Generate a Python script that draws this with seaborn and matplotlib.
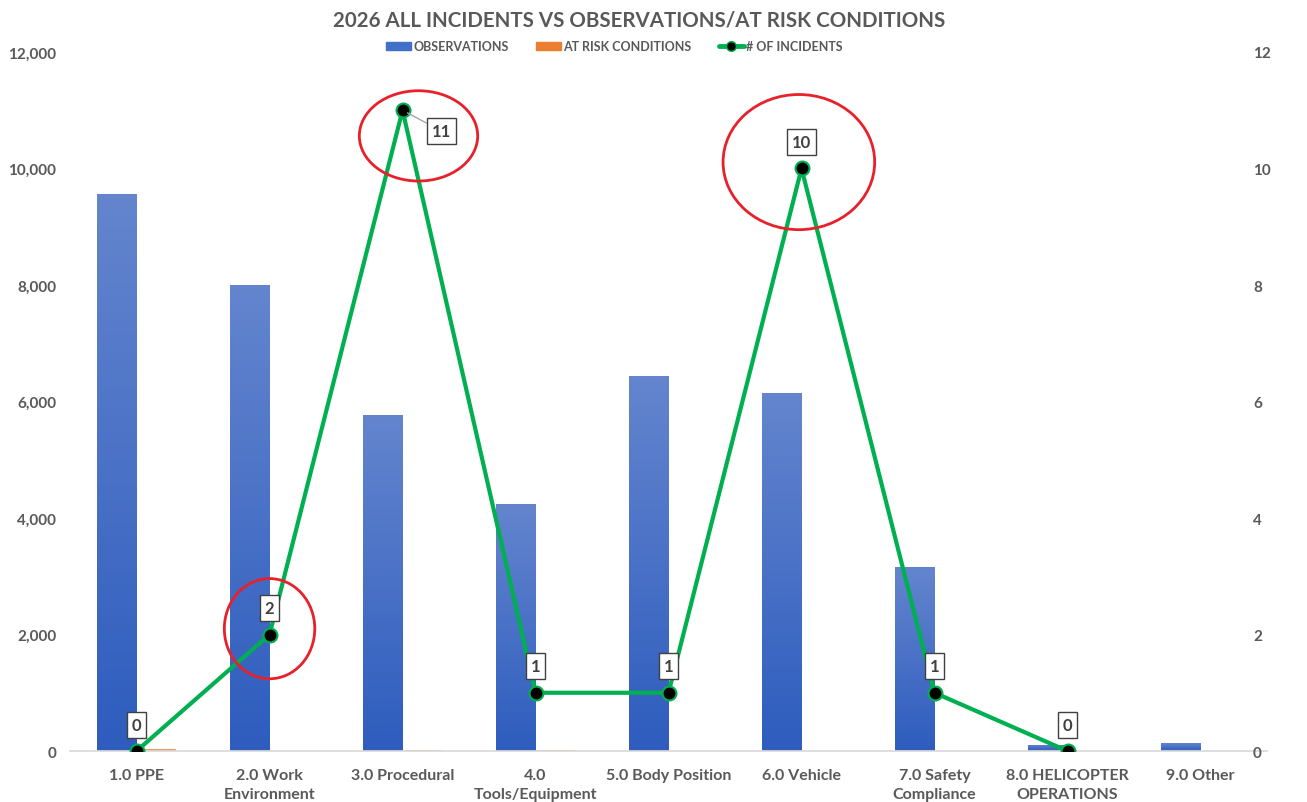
import numpy as np
import pandas as pd
import seaborn as sns
import matplotlib.pyplot as plt
from matplotlib.patches import Ellipse
from matplotlib.lines import Line2D
from matplotlib.ticker import FuncFormatter
from matplotlib.colors import LinearSegmentedColormap

categories = ["1.0 PPE", "2.0 Work\nEnvironment", "3.0 Procedural", "4.0\nTools/Equipment",
              "5.0 Body Position", "6.0 Vehicle", "7.0 Safety\nCompliance",
              "8.0 HELICOPTER\nOPERATIONS", "9.0 Other"]
observations = [9560, 8000, 5770, 4240, 6440, 6150, 3160, 110, 130]
at_risk = [45, 20, 30, 40, 8, 5, 15, 0, 0]
incidents = [0, 2, 11, 1, 1, 10, 1, 0, np.nan]

GRAY = "#595959"
BLUE = "#4070c8"
ORANGE = "#ED7D31"
GREEN = "#00B050"

sns.set_theme(style="white")
plt.rcParams['font.family'] = ['Lato', 'DejaVu Sans']

bars = pd.DataFrame({
    "cat": categories * 2,
    "value": observations + at_risk,
    "series": ["OBSERVATIONS"] * len(categories) + ["AT RISK CONDITIONS"] * len(categories),
})

fig = plt.figure(figsize=(13.07, 8.03), dpi=100)
ax = fig.add_axes([0.0536, 0.0635, 0.9158, 0.8705])
sns.barplot(data=bars, x="cat", y="value", hue="series", palette=[BLUE, ORANGE],
            width=0.6, ax=ax, legend=False, saturation=1)
ax.set_ylim(0, 12000)
ax.set_xlim(-0.5, len(categories) - 0.5)

# gradient fill for the observation bars (lighter at top like the original)
grad = LinearSegmentedColormap.from_list("g", ["#2E5DBE", "#6485CE"])
for p in ax.patches[:len(categories)]:
    x0, y0 = p.get_x(), p.get_y()
    w, h = p.get_width(), p.get_height()
    if h <= 0:
        continue
    im = ax.imshow(np.linspace(0, 1, 100).reshape(-1, 1), cmap=grad, origin="lower",
                   extent=[x0, x0 + w, y0, y0 + h], aspect="auto", zorder=p.get_zorder())
    im.set_clip_path(p)
ax.set_xlim(-0.5, len(categories) - 0.5)
ax.set_ylim(0, 12000)

ax.set_yticks(np.arange(0, 12001, 2000))
ax.yaxis.set_major_formatter(FuncFormatter(lambda v, p: f"{int(v):,}"))
ax.set_xlabel("")
ax.set_ylabel("")
for s in ["top", "right", "left"]:
    ax.spines[s].set_visible(False)
ax.spines["bottom"].set_color("#d9d9d9")
ax.tick_params(axis="y", length=0, pad=10, labelsize=11, labelcolor=GRAY)
ax.tick_params(axis="x", length=0, pad=12, labelsize=11.5, labelcolor=GRAY)
for t in ax.get_xticklabels():
    t.set_fontweight("bold")
    t.set_linespacing(1.45)
for t in ax.get_yticklabels():
    t.set_fontweight("bold")

ax2 = ax.twinx()
xpos = np.arange(len(categories))
sns.lineplot(x=xpos, y=incidents, ax=ax2, color=GREEN, linewidth=3, marker="o",
             markersize=10, markerfacecolor="black", markeredgecolor=GREEN,
             markeredgewidth=1.5, zorder=5)
ax2.set_ylim(0, 12)
ax2.set_yticks(np.arange(0, 13, 2))
for s in ["top", "right", "left", "bottom"]:
    ax2.spines[s].set_visible(False)
ax2.tick_params(axis="y", length=0, pad=-10, labelsize=11, labelcolor=GRAY)
for t in ax2.get_yticklabels():
    t.set_fontweight("bold")

box = dict(boxstyle="square,pad=0.3", fc="white", ec="#404040", lw=1)
for i, v in enumerate(incidents):
    if np.isnan(v):
        continue
    if v == 11:
        ax2.annotate(f"{int(v)}", (i, v), xytext=(28, -15), textcoords="offset points",
                     ha="center", va="center", fontsize=12, fontweight="bold", color="#404040",
                     bbox=box, zorder=6,
                     arrowprops=dict(arrowstyle="-", color="#a6a6a6", lw=1, shrinkA=0, shrinkB=4))
    else:
        ax2.annotate(f"{int(v)}", (i, v), xytext=(0, 19), textcoords="offset points",
                     ha="center", va="center", fontsize=12, fontweight="bold", color="#404040",
                     bbox=box, zorder=6)

# red highlight circles
for cx, cy, w, h in [(1.0, 2.1, 0.68, 1.72), (2.12, 10.56, 0.89, 1.55), (4.98, 10.11, 1.14, 2.32)]:
    ax2.add_patch(Ellipse((cx, cy), w, h, fill=False, ec="#E8202A", lw=2, zorder=7))

fig.suptitle("2026 ALL INCIDENTS VS OBSERVATIONS/AT RISK CONDITIONS", x=0.489, y=0.987,
             fontsize=14.8, fontweight="bold", color=GRAY)
handles = [plt.Rectangle((0, 0), 1, 1, color=BLUE), plt.Rectangle((0, 0), 1, 1, color=ORANGE),
           Line2D([0], [0], color=GREEN, lw=3.5, marker="o", markerfacecolor="black",
                  markeredgecolor=GREEN, markersize=7)]
leg = fig.legend(handles, ["OBSERVATIONS", "AT RISK CONDITIONS", "# OF INCIDENTS"],
                 loc="center", bbox_to_anchor=(0.470, 0.941), ncol=3, frameon=False,
                 fontsize=9, handlelength=2.0, handleheight=0.55, handletextpad=0.15,
                 columnspacing=2.2)
for t in leg.get_texts():
    t.set_color(GRAY)
    t.set_fontweight("bold")

fig.savefig("out.png", dpi=100)
